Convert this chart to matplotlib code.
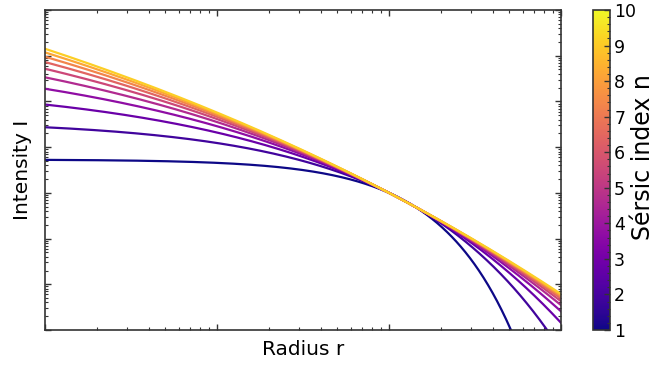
import numpy as np
import matplotlib
matplotlib.use("Agg")
import matplotlib.pyplot as plt
from matplotlib.ticker import MultipleLocator, LogLocator, NullFormatter

# Sersic profile parameters (one curve per Sersic index)
sersic_n = [1, 2, 3, 4, 5, 6, 7, 8, 9, 10]
amplitude = 1.0
r_eff = 1.0
x_limits = [1e-2, 1e1]
y_limits = [1e-3, 1e4]
cbar_ticks = [1, 2, 3, 4, 5, 6, 7, 8, 9, 10]

r = np.logspace(np.log10(x_limits[0]), np.log10(x_limits[1]), 800)

def b_n(n):
    # Ciotti & Bertin asymptotic expansion for gammaincinv(2n, 0.5)
    return 2 * n - 1.0 / 3 + 4.0 / (405 * n) + 46.0 / (25515 * n ** 2)

def sersic(r, n):
    return amplitude * np.exp(-b_n(n) * ((r / r_eff) ** (1.0 / n) - 1))

fig = plt.figure(figsize=(6.57, 3.65), dpi=100)
ax = fig.add_axes([45 / 657, 1 - 330 / 365, (561 - 45) / 657, (330 - 10) / 365])
cax = fig.add_axes([593 / 657, 1 - 330 / 365, 17 / 657, (330 - 10) / 365])

cmap = plt.get_cmap("plasma")
norm = matplotlib.colors.Normalize(vmin=1, vmax=10)
for n in sersic_n:
    ax.plot(r, sersic(r, n), color=cmap((n - 1) / 10.0), lw=1.6)

ax.set_xscale("log")
ax.set_yscale("log")
ax.set_xlim(x_limits)
ax.set_ylim(y_limits)
ax.xaxis.set_major_locator(LogLocator(base=10, numticks=20))
ax.xaxis.set_minor_locator(LogLocator(base=10, subs=np.arange(2, 10), numticks=20))
ax.yaxis.set_major_locator(LogLocator(base=10, numticks=20))
ax.yaxis.set_minor_locator(LogLocator(base=10, subs=np.arange(2, 10), numticks=20))
ax.xaxis.set_major_formatter(NullFormatter())
ax.xaxis.set_minor_formatter(NullFormatter())
ax.yaxis.set_major_formatter(NullFormatter())
ax.yaxis.set_minor_formatter(NullFormatter())
ax.tick_params(which="both", direction="in", top=True, right=True, color="#333333")
ax.tick_params(which="major", length=4, width=1)
ax.tick_params(which="minor", length=2, width=0.8)
for s in ax.spines.values():
    s.set_linewidth(1.2)
    s.set_color("#333333")
ax.set_xlabel("Radius r", fontsize=14.5, labelpad=4)
ax.set_ylabel("Intensity I", fontsize=14.5, labelpad=6)

sm = matplotlib.cm.ScalarMappable(norm=norm, cmap=cmap)
cb = fig.colorbar(sm, cax=cax, ticks=cbar_ticks)
cb.ax.tick_params(labelsize=12.5, direction="in", length=4, width=1, color="#333333", pad=3)
cb.ax.yaxis.set_minor_locator(MultipleLocator(0.2))
cb.ax.tick_params(which="minor", direction="in", length=2, width=0.8, color="#333333")
cb.outline.set_linewidth(1.2)
cb.outline.set_edgecolor("#333333")
cb.set_label("Sérsic index n", fontsize=17, labelpad=-4)
cb.ax.yaxis.label.set_y(0.54)

fig.savefig("out.png", dpi=100)
